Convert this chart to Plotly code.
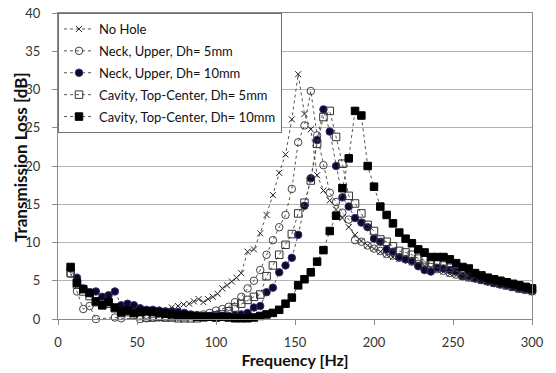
import plotly.graph_objects as go

# ---------------- data ----------------
freq_std = [8, 12, 16, 20, 24, 28, 32, 36, 40, 44, 48, 52, 56, 60, 64, 68, 72, 76, 80, 84,
            88, 92, 96, 100, 104, 108, 112, 116, 120, 124, 128, 132, 136, 140, 144, 148, 152,
            156, 160, 164, 168, 172, 176, 180, 184, 188, 192, 196, 200, 204, 208, 212, 216,
            220, 224, 228, 232, 236, 240, 244, 248, 252, 256, 260, 264, 268, 272, 276, 280,
            284, 288, 292, 296, 300]

freq_no_hole = [8, 12, 16, 20, 24, 28, 32, 36, 40, 44, 48, 52, 56, 60, 64, 68, 72, 76, 79.5,
                83, 86, 89, 92, 95, 98, 101, 104, 107, 110, 113, 116, 120, 124, 128, 132, 136,
                140, 144, 148, 152, 156, 160, 164, 168, 172, 176, 180, 184, 188, 192, 196, 200,
                204, 208, 212, 216, 220, 224, 228, 232, 236, 240, 244, 248, 252, 256, 260, 264,
                268, 272, 276, 280, 284, 288, 292, 296, 300]
tl_no_hole = [6.8, 4.7, 3.9, 3.4, 2.3, 1.8, 2.2, 1.5, 0.9, 1.1, 0.8, 0.9, 1.0, 0.9, 0.8, 1.0,
              1.5, 1.7, 1.9, 2.0, 2.3, 2.6, 2.2, 2.6, 2.9, 3.3, 4.0, 4.4, 4.9, 5.4, 6.0, 8.8,
              9.1, 11.2, 13.6, 16.2, 19.1, 21.5, 26.1, 32.0, 26.8, 24.8, 18.8, 16.8, 15.5,
              14.3, 13.2, 12.0, 11.0, 10.2, 9.6, 9.2, 8.8, 8.4, 8.1, 7.9, 7.7, 7.4, 7.1, 6.9,
              6.7, 6.4, 6.2, 5.9, 5.7, 5.5, 5.3, 5.2, 5.0, 4.8, 4.6, 4.5, 4.3, 4.1, 3.9, 3.7, 3.5]

freq_neck5 = [8, 12, 16, 20, 24, 36, 40, 52, 56, 60, 64, 68, 72, 76, 80, 84, 88, 92, 96, 100,
              104, 108, 112, 116, 120, 124, 128, 132, 136, 140, 144, 148, 152, 156, 160, 164,
              168, 172, 176, 180, 184, 188, 192, 196, 200, 204, 208, 212, 216, 220, 224, 228,
              232, 236, 240, 244, 248, 252, 256, 260, 264, 268, 272, 276, 280, 284, 288, 292,
              296, 300]
tl_neck5 = [5.9, 3.6, 1.3, 1.7, 0.0, 0.2, 0.1, 0.0, 0.1, 0.2, 0.2, 0.2, 0.3, 0.3, 0.3, 0.4,
            0.5, 0.6, 0.8, 1.1, 1.3, 1.6, 2.2, 2.9, 4.0, 5.0, 6.4, 8.4, 10.3, 12.0, 13.6, 17.0,
            23.1, 25.3, 29.8, 24.0, 20.1, 16.5, 15.3, 13.9, 13.0, 10.3, 10.1, 9.6, 9.2, 8.9,
            8.5, 8.3, 8.0, 7.8, 7.5, 7.2, 7.0, 6.8, 6.5, 6.3, 6.0, 5.8, 5.6, 5.4, 5.3, 5.1,
            4.9, 4.7, 4.6, 4.4, 4.2, 4.0, 3.8, 3.6]

tl_neck10 = [6.6, 5.4, 4.0, 3.5, 3.6, 2.9, 3.1, 3.6, 1.8, 2.0, 1.8, 1.4, 1.2, 1.2, 1.1, 1.0,
             1.0, 0.9, 0.8, 0.6, 0.5, 0.4, 0.4, 0.4, 0.4, 0.4, 0.5, 0.6, 0.8, 1.5, 1.7, 3.5,
             4.1, 6.1, 7.0, 8.0, 11.0, 14.8, 18.4, 23.4, 27.4, 24.5, 20.0, 15.9, 14.7, 13.2,
             12.6, 12.0, 10.5, 10.1, 9.1, 8.8, 8.1, 7.8, 7.6, 6.9, 6.4, 6.2, 6.7, 6.6, 6.4,
             6.2, 5.6, 5.6, 5.3, 5.1, 4.9, 4.7, 4.5, 4.4, 4.2, 4.0, 3.9, 3.7]

tl_cav5 = [6.0, 4.5, 3.6, 3.0, 2.2, 1.8, 2.0, 1.4, 0.8, 0.9, 0.6, 0.4, 0.2, 0.2, 0.3, 0.2,
           0.2, 0.1, 0.1, 0.1, 0.1, 0.2, 0.3, 0.5, 0.6, 1.0, 1.5, 2.0, 2.5, 2.9, 3.2, 5.6,
           7.0, 8.4, 9.7, 11.1, 13.8, 15.2, 18.1, 22.9, 26.4, 27.2, 23.8, 20.3, 16.1, 15.1,
           13.8, 12.3, 11.5, 10.4, 10.1, 9.5, 8.9, 8.7, 8.4, 7.9, 7.7, 7.3, 7.2, 7.0, 6.7,
           6.3, 5.8, 5.6, 5.4, 5.2, 5.0, 4.8, 4.6, 4.4, 4.2, 4.0, 3.9, 3.8]

tl_cav10 = [6.8, 4.7, 3.9, 3.4, 2.3, 1.8, 2.2, 1.5, 0.9, 1.1, 0.8, 0.9, 1.0, 0.9, 0.8, 0.7,
            0.6, 0.5, 0.5, 0.4, 0.3, 0.3, 0.3, 0.2, 0.3, 0.2, 0.1, 0.1, 0.1, 0.2, 0.4, 0.6,
            0.8, 1.2, 2.0, 2.8, 4.4, 5.2, 6.1, 7.5, 9.0, 11.5, 13.5, 17.1, 21.0, 27.2, 26.6,
            20.0, 17.3, 14.7, 13.6, 12.5, 11.3, 10.5, 9.9, 9.1, 8.7, 8.1, 8.1, 8.1, 7.8, 7.3,
            6.8, 6.6, 6.0, 5.7, 5.4, 5.2, 5.0, 4.8, 4.6, 4.4, 4.2, 4.0]

series_names = ["No Hole", "Neck, Upper, Dh= 5mm", "Neck, Upper, Dh= 10mm",
                "Cavity, Top-Center, Dh= 5mm", "Cavity, Top-Center, Dh= 10mm"]

x_ticks = [0, 50, 100, 150, 200, 250, 300]
y_ticks = [0, 5, 10, 15, 20, 25, 30, 35, 40]

# ---------------- figure ----------------
FONT = "Lato, 'Open Sans', sans-serif"
line_style = dict(color="#555555", width=1, dash="dot")

series = [
    (freq_no_hole, tl_no_hole, dict(symbol="x-thin", size=6, color="#222222",
                                    line=dict(color="#222222", width=1))),
    (freq_neck5, tl_neck5, dict(symbol="circle-open", size=7.5, color="#444444",
                                line=dict(color="#444444", width=1))),
    (freq_std, tl_neck10, dict(symbol="circle", size=7.5, color="#0e0828",
                               line=dict(color="#3a2d78", width=1))),
    (freq_std, tl_cav5, dict(symbol="square-open", size=7.5, color="#333333",
                             line=dict(color="#333333", width=1))),
    (freq_std, tl_cav10, dict(symbol="square", size=7.5, color="#000000",
                              line=dict(color="#000000", width=1))),
]

fig = go.Figure()
for i, (name, (xs, ys, mk)) in enumerate(zip(series_names, series)):
    fig.add_trace(go.Scatter(x=xs, y=ys, name=name, mode="lines+markers",
                             legendgroup=f"g{i}",
                             line=line_style, marker=mk, cliponaxis=False))

PLOT_L, PLOT_R, PLOT_T, PLOT_B = 58, 532, 13, 319
W, H = 556, 373

fig.update_layout(
    width=W, height=H,
    margin=dict(l=PLOT_L, r=W - PLOT_R, t=PLOT_T, b=H - PLOT_B),
    paper_bgcolor="white", plot_bgcolor="white",
    font=dict(family=FONT, size=13, color="#222222"),
    showlegend=True,
    legend=dict(x=0, y=1, xanchor="left", yanchor="top",
                bgcolor="white", bordercolor="#6f6f6f", borderwidth=1,
                font=dict(family=FONT, size=13, color="#111111"),
                itemwidth=30, traceorder="grouped", tracegroupgap=2),
    annotations=[dict(
        text="<b>Transmission Loss [dB]</b>", textangle=-90,
        xref="paper", yref="paper",
        x=(20 - PLOT_L) / (PLOT_R - PLOT_L), y=(PLOT_B - 157) / (PLOT_B - PLOT_T),
        xanchor="center", yanchor="middle", showarrow=False,
        font=dict(family=FONT, size=17, color="#111111"),
    )],
)

fig.update_xaxes(
    range=[0, 300], tickvals=x_ticks, ticktext=[str(v) for v in x_ticks],
    showgrid=False, zeroline=False, automargin=False,
    showline=True, linecolor="#8a8a8a", linewidth=1, mirror=True,
    ticks="outside", ticklen=5, tickcolor="#8a8a8a", ticklabelstandoff=6,
    tickfont=dict(family=FONT, size=13, color="#333333"),
    title=dict(text="<b>Frequency [Hz]</b>", font=dict(family=FONT, size=16, color="#111111"),
               standoff=6),
)
fig.update_yaxes(
    range=[0, 40], tickvals=y_ticks, ticktext=[str(v) for v in y_ticks],
    showgrid=True, gridcolor="#b3b3b3", gridwidth=1.3, zeroline=False, automargin=False,
    showline=True, linecolor="#8a8a8a", linewidth=1, mirror=True,
    ticks="outside", ticklen=5, tickcolor="#8a8a8a", ticklabelstandoff=9,
    tickfont=dict(family=FONT, size=13, color="#333333"),
)

fig.write_html("out.html", config={"displayModeBar": False},
               post_script="document.body.style.margin='0';")
